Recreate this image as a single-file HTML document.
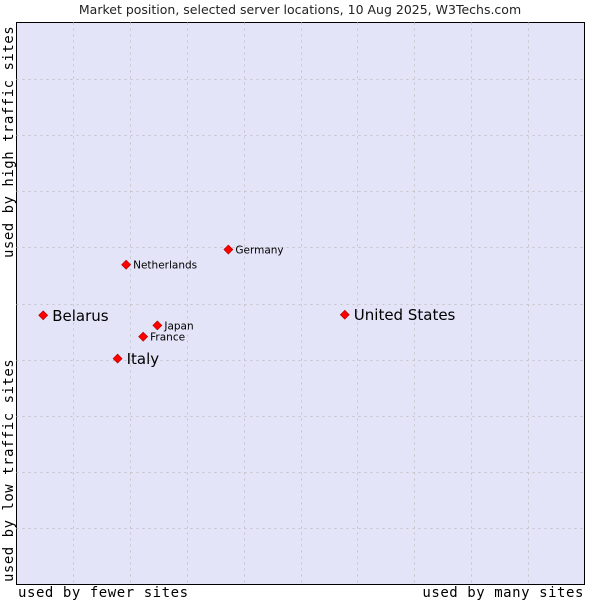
<!DOCTYPE html>
<html><head><meta charset="utf-8"><style>
body{margin:0;background:#fff;width:600px;height:600px;overflow:hidden}
svg text{font-family:"DejaVu Sans","Liberation Sans",sans-serif}
.mono{font-family:"DejaVu Sans Mono","Liberation Mono",monospace}
</style></head><body>
<svg id="chart" width="600" height="600">
<text x="300" y="14" text-anchor="middle" font-size="12.5" fill="#222">Market position, selected server locations, 10 Aug 2025, W3Techs.com</text>
<rect x="16.5" y="22.5" width="568" height="562" fill="#e3e4f8" stroke="#000"/>
<g id="grid"></g>
<g id="points"></g>
<text class="mono" x="18" y="597" font-size="14" letter-spacing="0.55" fill="#000">used by fewer sites</text>
<text class="mono" x="584" y="597" font-size="14" letter-spacing="0.55" text-anchor="end" fill="#000">used by many sites</text>
<text class="mono" transform="translate(13,258) rotate(-90)" font-size="14" letter-spacing="0.5" fill="#000">used by high traffic sites</text>
<text class="mono" transform="translate(13,582) rotate(-90)" font-size="14" letter-spacing="0.5" fill="#000">used by low traffic sites</text>
</svg>
<script>
const names=["Belarus","United States","Italy","Netherlands","Germany","Japan","France"];
const xVals=[4.7,57.8,17.8,19.3,37.3,24.8,22.3];
const yVals=[47.9,48.0,40.2,56.9,59.6,46.1,44.1];
const big=[true,true,true,false,false,false,false];
const L=16.5,R=584.5,T=22.5,B=584.5;
const sx=v=>L+(R-L)*v/100, sy=v=>B-(B-T)*v/100;
const ns="http://www.w3.org/2000/svg";
const g=document.getElementById('grid');
for(let i=1;i<10;i++){
  const a=document.createElementNS(ns,'line');
  
  
  const x=Math.round(sx(i*10))+0.5;
  a.setAttribute('x1',x);a.setAttribute('x2',x);a.setAttribute('y1',T);a.setAttribute('y2',B);
  a.setAttribute('stroke','#c4c4c8');a.setAttribute('stroke-dasharray','2,4');g.appendChild(a);
  const b=document.createElementNS(ns,'line');
  
  
  const y=Math.round(sy(i*10))+0.5;
  b.setAttribute('x1',L);b.setAttribute('x2',R);b.setAttribute('y1',y);b.setAttribute('y2',y);
  b.setAttribute('stroke','#c4c4c8');b.setAttribute('stroke-dasharray','2,4');g.appendChild(b);
}
const p=document.getElementById('points');
names.forEach((n,i)=>{
  const x=sx(xVals[i]),y=sy(yVals[i]);
  const d=document.createElementNS(ns,'path');
  
  
  d.setAttribute('d',`M${x} ${y-4.5}L${x+4.5} ${y}L${x} ${y+4.5}L${x-4.5} ${y}Z`);
  d.setAttribute('fill','#f00');d.setAttribute('stroke','#a00');d.setAttribute('stroke-width','0.6');
  p.appendChild(d);
  const t=document.createElementNS(ns,'text');
  
  
  t.setAttribute('x',x+(big[i]?9:7));t.setAttribute('y',y+(big[i]?5.5:4));
  t.setAttribute('font-size',big[i]?15:10.5);t.setAttribute('fill','#000');
  t.textContent=n;p.appendChild(t);
});
</script>
</body></html>
